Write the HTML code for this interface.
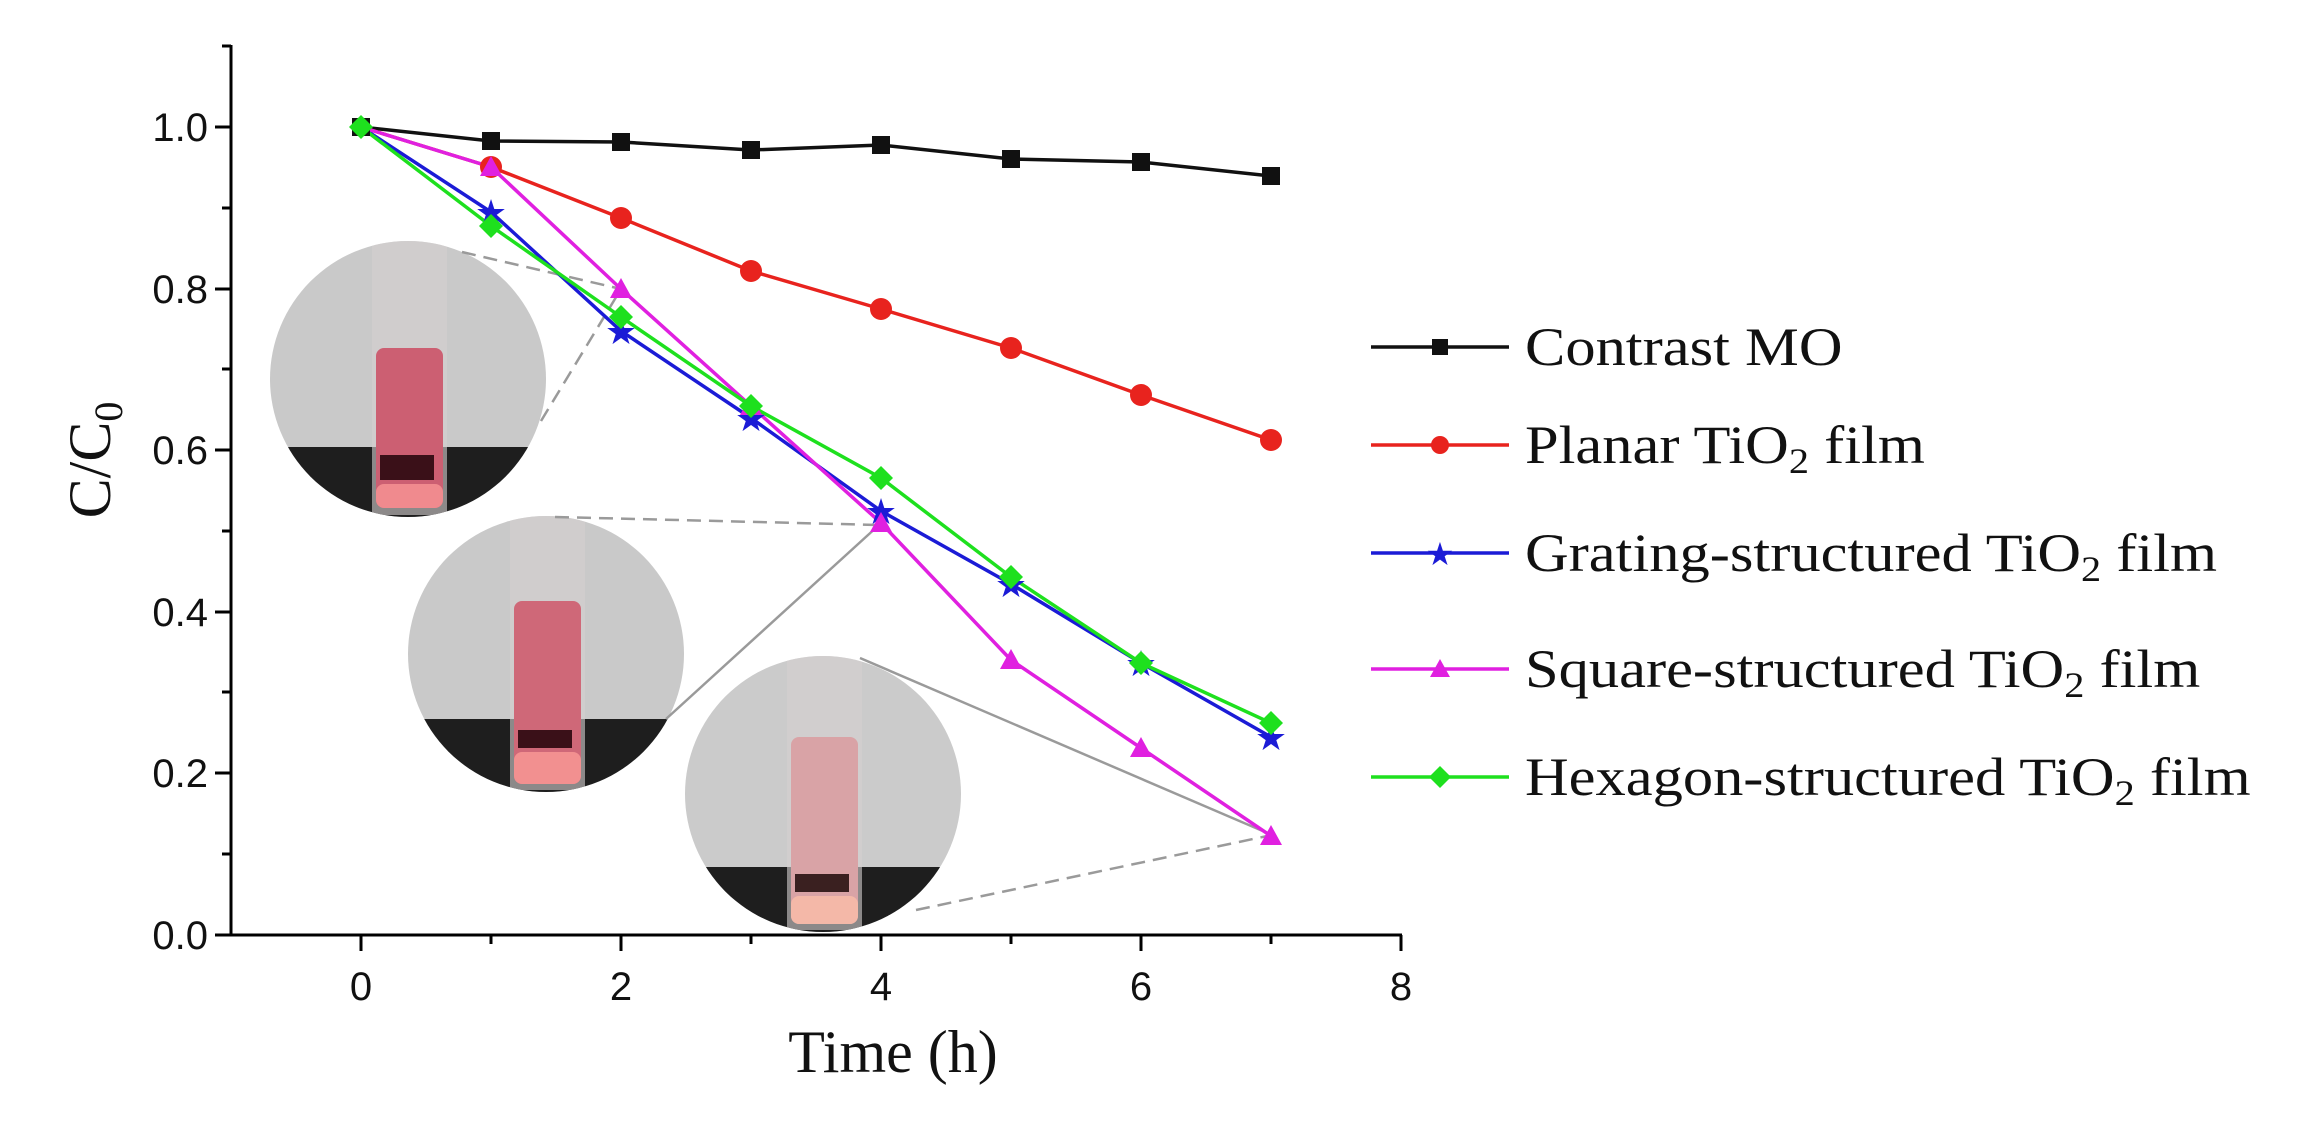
<!DOCTYPE html>
<html><head><meta charset="utf-8"><style>
html,body{margin:0;padding:0;background:#fff;}
svg{display:block;}
text{font-family:"Liberation Serif",serif;fill:#111;}
.tk text{font-family:"Liberation Sans",sans-serif;font-size:40px;}
</style></head><body>
<svg width="2308" height="1128" viewBox="0 0 2308 1128" xmlns="http://www.w3.org/2000/svg">
<defs>
<clipPath id="c1"><circle cx="408" cy="379" r="138"/></clipPath>
<clipPath id="c2"><circle cx="546" cy="654" r="138"/></clipPath>
<clipPath id="c3"><circle cx="823" cy="794" r="138"/></clipPath>
</defs>
<!-- photos -->
<g clip-path="url(#c1)">
<rect x="260" y="230" width="300" height="300" fill="#c9c9c9"/>
<rect x="260" y="447" width="300" height="90" fill="#1e1e1e"/>
<rect x="372" y="240" width="75" height="275" fill="#d6d0d0" opacity="0.6"/>
<rect x="376" y="348" width="67" height="160" rx="8" fill="#cc5f72"/>
<rect x="380" y="455" width="54" height="25" fill="#3a1018"/>
<rect x="376" y="484" width="67" height="24" rx="8" fill="#f08a8e"/>
</g>
<g clip-path="url(#c2)">
<rect x="400" y="510" width="300" height="300" fill="#c9c9c9"/>
<rect x="400" y="719" width="300" height="90" fill="#1e1e1e"/>
<rect x="510" y="515" width="75" height="275" fill="#d6d0d0" opacity="0.6"/>
<rect x="514" y="601" width="67" height="183" rx="8" fill="#cf6878"/>
<rect x="518" y="730" width="54" height="18" fill="#3a1018"/>
<rect x="514" y="752" width="67" height="32" rx="8" fill="#f29090"/>
</g>
<g clip-path="url(#c3)">
<rect x="680" y="650" width="300" height="300" fill="#cbcbcb"/>
<rect x="680" y="867" width="300" height="90" fill="#1e1e1e"/>
<rect x="787" y="655" width="75" height="275" fill="#d6d0d0" opacity="0.6"/>
<rect x="791" y="737" width="67" height="187" rx="8" fill="#d9a3a6"/>
<rect x="795" y="874" width="54" height="18" fill="#3a2020"/>
<rect x="791" y="896" width="67" height="28" rx="8" fill="#f4b8a8"/>
</g>
<!-- connector lines -->
<g stroke="#9a9a9a" stroke-width="2.5" fill="none">
<line x1="462" y1="252" x2="621" y2="289" stroke-dasharray="14,8"/>
<line x1="541" y1="421" x2="621" y2="289" stroke-dasharray="14,8"/>
<line x1="555" y1="517" x2="879" y2="525" stroke-dasharray="14,8"/>
<line x1="666" y1="719" x2="879" y2="525"/>
<line x1="860" y1="658" x2="1272" y2="835"/>
<line x1="916" y1="910" x2="1272" y2="835" stroke-dasharray="14,8"/>
</g>
<!-- axes -->
<g stroke="#000" stroke-width="3" fill="none">
<line x1="231" y1="45" x2="231" y2="936"/>
<line x1="230" y1="935" x2="1402" y2="935"/>
<line x1="361" y1="935" x2="361" y2="951"/><line x1="621" y1="935" x2="621" y2="951"/>
<line x1="881" y1="935" x2="881" y2="951"/><line x1="1141" y1="935" x2="1141" y2="951"/>
<line x1="1401" y1="935" x2="1401" y2="951"/>
<line x1="491" y1="935" x2="491" y2="944"/><line x1="751" y1="935" x2="751" y2="944"/>
<line x1="1011" y1="935" x2="1011" y2="944"/><line x1="1271" y1="935" x2="1271" y2="944"/>
<line x1="215" y1="935" x2="231" y2="935"/><line x1="215" y1="773" x2="231" y2="773"/>
<line x1="215" y1="612" x2="231" y2="612"/><line x1="215" y1="450" x2="231" y2="450"/>
<line x1="215" y1="289" x2="231" y2="289"/><line x1="215" y1="127" x2="231" y2="127"/>
<line x1="222" y1="854" x2="231" y2="854"/><line x1="222" y1="692" x2="231" y2="692"/>
<line x1="222" y1="531" x2="231" y2="531"/><line x1="222" y1="369" x2="231" y2="369"/>
<line x1="222" y1="208" x2="231" y2="208"/><line x1="222" y1="46" x2="231" y2="46"/>
</g>
<g class="tk" text-anchor="end">
<text x="208" y="949">0.0</text><text x="208" y="787">0.2</text><text x="208" y="626">0.4</text>
<text x="208" y="464">0.6</text><text x="208" y="303">0.8</text><text x="208" y="141">1.0</text>
</g>
<g class="tk" text-anchor="middle">
<text x="361" y="1000">0</text><text x="621" y="1000">2</text><text x="881" y="1000">4</text>
<text x="1141" y="1000">6</text><text x="1401" y="1000">8</text>
</g>
<text x="893" y="1072" text-anchor="middle" font-size="60">Time (h)</text>
<text transform="translate(110,460) rotate(-90)" text-anchor="middle" font-size="60">C/C<tspan font-size="40" dy="12">0</tspan></text>
<!-- series -->
<g fill="none" stroke-width="3.5">
<polyline stroke="#111" points="361,127 491,141 621,142 751,150 881,145 1011,159 1141,162 1271,176"/>
<polyline stroke="#e8231e" points="361,127 491,167 621,218 751,271 881,309 1011,348 1141,395 1271,440"/>
<polyline stroke="#1b1bd6" points="361,127 491,212 621,331 751,418 881,511 1011,584 1141,663 1271,737"/>
<polyline stroke="#e020e0" points="361,127 491,167 621,289 751,406 881,523 1011,660 1141,748 1271,836"/>
<polyline stroke="#1ee01e" points="361,127 491,226 621,317 751,406 881,478 1011,577 1141,663 1271,723"/>
</g>
<g fill="#111">
<rect x="352" y="118" width="18" height="18"/><rect x="482" y="132" width="18" height="18"/><rect x="612" y="133" width="18" height="18"/><rect x="742" y="141" width="18" height="18"/><rect x="872" y="136" width="18" height="18"/><rect x="1002" y="150" width="18" height="18"/><rect x="1132" y="153" width="18" height="18"/><rect x="1262" y="167" width="18" height="18"/>
</g>
<g fill="#e8231e">
<circle cx="491" cy="167" r="11"/><circle cx="621" cy="218" r="11"/><circle cx="751" cy="271" r="11"/><circle cx="881" cy="309" r="11"/><circle cx="1011" cy="348" r="11"/><circle cx="1141" cy="395" r="11"/><circle cx="1271" cy="440" r="11"/>
</g>
<g font-size="36" text-anchor="middle">
<text x="491" y="225" style="fill:#1b1bd6">★</text><text x="621" y="344" style="fill:#1b1bd6">★</text><text x="751" y="431" style="fill:#1b1bd6">★</text><text x="881" y="524" style="fill:#1b1bd6">★</text><text x="1011" y="597" style="fill:#1b1bd6">★</text><text x="1141" y="676" style="fill:#1b1bd6">★</text><text x="1271" y="750" style="fill:#1b1bd6">★</text>
</g>
<g fill="#e020e0">
<polygon points="491,156 502,176 480,176"/><polygon points="621,278 632,298 610,298"/><polygon points="751,395 762,415 740,415"/><polygon points="881,512 892,532 870,532"/><polygon points="1011,649 1022,669 1000,669"/><polygon points="1141,737 1152,757 1130,757"/><polygon points="1271,825 1282,845 1260,845"/>
</g>
<g fill="#1ee01e">
<polygon points="361,115 373,127 361,139 349,127"/><polygon points="491,214 503,226 491,238 479,226"/><polygon points="621,305 633,317 621,329 609,317"/><polygon points="751,394 763,406 751,418 739,406"/><polygon points="881,466 893,478 881,490 869,478"/><polygon points="1011,565 1023,577 1011,589 999,577"/><polygon points="1141,651 1153,663 1141,675 1129,663"/><polygon points="1271,711 1283,723 1271,735 1259,723"/>
</g>
<!-- legend -->
<g stroke-width="3.5">
<line x1="1371" y1="347" x2="1509" y2="347" stroke="#111"/>
<line x1="1371" y1="445" x2="1509" y2="445" stroke="#e8231e"/>
<line x1="1371" y1="553" x2="1509" y2="553" stroke="#1b1bd6"/>
<line x1="1371" y1="669" x2="1509" y2="669" stroke="#e020e0"/>
<line x1="1371" y1="777" x2="1509" y2="777" stroke="#1ee01e"/>
</g>
<rect x="1432" y="339" width="16" height="16" fill="#111"/>
<circle cx="1440" cy="445" r="9" fill="#e8231e"/>
<text x="1440" y="565" text-anchor="middle" font-size="32" style="fill:#1b1bd6">★</text>
<polygon points="1440,659 1450,677 1430,677" fill="#e020e0"/>
<polygon points="1440,766 1451,777 1440,788 1429,777" fill="#1ee01e"/>
<g font-size="54" transform="matrix(1.12,0,0,1,-183,0)">
<text x="1525" y="365">Contrast MO</text>
<text x="1525" y="463">Planar TiO<tspan font-size="36" dy="10">2</tspan><tspan dy="-10"> film</tspan></text>
<text x="1525" y="571">Grating-structured TiO<tspan font-size="36" dy="10">2</tspan><tspan dy="-10"> film</tspan></text>
<text x="1525" y="687">Square-structured TiO<tspan font-size="36" dy="10">2</tspan><tspan dy="-10"> film</tspan></text>
<text x="1525" y="795">Hexagon-structured TiO<tspan font-size="36" dy="10">2</tspan><tspan dy="-10"> film</tspan></text>
</g>
</svg>
</body></html>
